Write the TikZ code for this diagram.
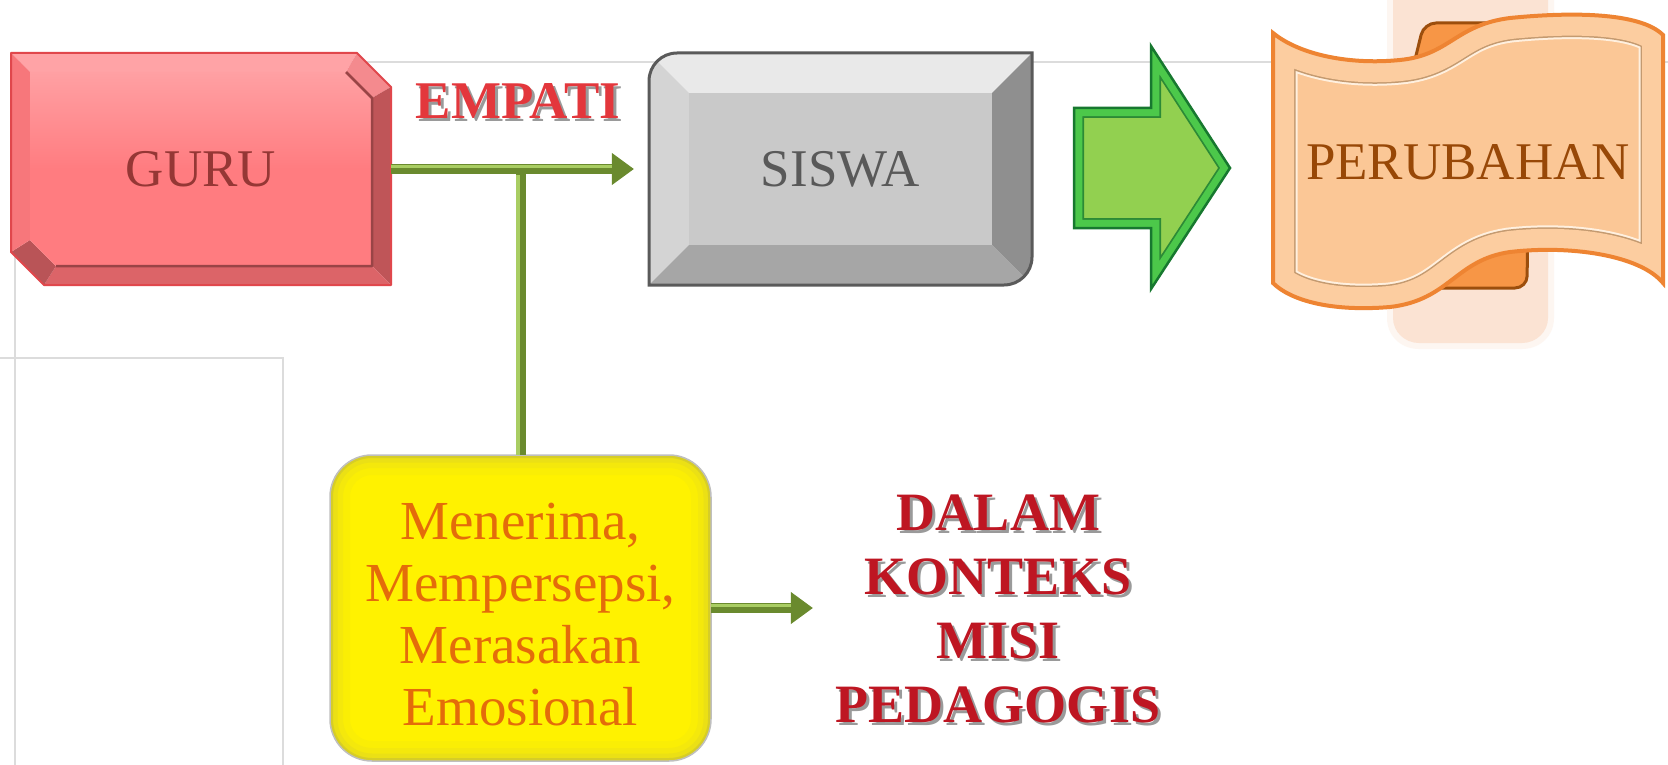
\documentclass[tikz,border=0pt]{standalone}
\usepackage{fontspec}
\setmainfont{Liberation Serif}
\usetikzlibrary{arrows.meta,calc}

\definecolor{frameGray}{HTML}{DCDCDC}
\definecolor{connDark}{HTML}{6A8A2E}
\definecolor{connLight}{HTML}{A9CD63}
\definecolor{guruText}{HTML}{953735}
\definecolor{guruEdge}{HTML}{E0474C}
\definecolor{guruTop}{HTML}{FFA3A6}
\definecolor{guruTopR}{HTML}{F48A8E}
\definecolor{guruRight}{HTML}{BF5558}
\definecolor{guruBottom}{HTML}{DC6468}
\definecolor{guruBotL}{HTML}{B95457}
\definecolor{guruLeft}{HTML}{F7777B}
\definecolor{guruFace}{HTML}{FF7C80}
\definecolor{guruFaceHi}{HTML}{FFA0A3}
\definecolor{siswaText}{HTML}{595959}
\definecolor{siswaEdge}{HTML}{5A5A5A}
\definecolor{siswaTop}{HTML}{E9E9E9}
\definecolor{siswaLeft}{HTML}{D4D4D4}
\definecolor{siswaRight}{HTML}{8F8F8F}
\definecolor{siswaBottom}{HTML}{A6A6A6}
\definecolor{siswaFace}{HTML}{C9C9C9}
\definecolor{arrowFace}{HTML}{92D050}
\definecolor{arrowRing}{HTML}{4CC84A}
\definecolor{arrowLine}{HTML}{2C8A36}
\definecolor{arrowEdge}{HTML}{17782F}
\definecolor{glowPeach}{HTML}{FBE3D3}
\definecolor{bannerFill}{HTML}{FBC796}
\definecolor{bannerRing}{HTML}{FCCDA0}
\definecolor{bannerGroove}{HTML}{C49A70}
\definecolor{bannerRidge}{HTML}{FFF0DF}
\definecolor{bannerEdge}{HTML}{EE8432}
\definecolor{backFill}{HTML}{F79646}
\definecolor{backEdge}{HTML}{9C4E0C}
\definecolor{perubahanText}{HTML}{984807}
\definecolor{terimaText}{HTML}{E46C0A}
\definecolor{empatiRed}{HTML}{E3373C}
\definecolor{dalamRed}{HTML}{BE1622}
\definecolor{textShadow}{HTML}{9A9A9A}

\tikzset{
  frameline/.style={draw=frameGray, line width=2pt},
  lbl/.style={inner sep=0pt, align=center, font=\fontsize{53}{64}\selectfont},
  boldlbl/.style={inner sep=0pt, align=center, font=\bfseries\fontsize{54}{64}\selectfont},
  conn/.style={line width=10pt, draw=connDark,
    -{Triangle[length=22pt,width=32pt,line width=1pt]}},
  connbar/.style={line width=10pt, draw=connDark},
  connhi/.style={line width=3.5pt, draw=connLight},
}

% outlines that are reused for clipping and stroking
\newcommand\siswaOutline{(649,285) -- (649,81) .. controls (649,65.5) and (661.5,53) .. (677,53) -- (1032,53) -- (1032,257) .. controls (1032,272.5) and (1019.5,285) .. (1004,285) -- cycle}
\newcommand\blockArrow{(1074,108) -- (1151,108) -- (1151,46) -- (1230,168) -- (1151,289) -- (1151,228) -- (1074,228) -- cycle}
\newcommand\bannerShape{(1273,33) .. controls (1300,55) and (1350,65) .. (1400,60) .. controls (1450,55) and (1455,25) .. (1510,18) .. controls (1570,12) and (1640,12) .. (1663,35) -- (1663,283) .. controls (1640,255) and (1570,245) .. (1510,252) .. controls (1455,260) and (1450,300) .. (1390,307) .. controls (1330,312) and (1290,300) .. (1273,283) -- cycle}
\newcommand\yellowBox{(330,455) rectangle (711,761)}

\begin{document}
\begin{tikzpicture}[x=1pt,y=-1pt]
\useasboundingbox (0,0) rectangle (1668,765);
\fill[white] (0,0) rectangle (1668,765);

% faint page frame lines
\draw[frameline] (15,765) -- (15,62) -- (1668,62);
\draw[frameline] (0,358) -- (283,358) -- (283,765);

% ---------- GURU: chamfered bevel block ----------
\coordinate (gA) at (11,53);  \coordinate (gB) at (357,53);
\coordinate (gC) at (391,87); \coordinate (gD) at (391,285);
\coordinate (gE) at (44,285); \coordinate (gF) at (11,252);
\coordinate (ga) at (30,72);  \coordinate (gb) at (346,72);
\coordinate (gc) at (372,98); \coordinate (gd) at (372,266);
\coordinate (ge) at (56,266); \coordinate (gf) at (30,240);
\fill[guruTop]    (gA) -- (gB) -- (gb) -- (ga) -- cycle;
\fill[guruTopR]   (gB) -- (gC) -- (gc) -- (gb) -- cycle;
\fill[guruRight]  (gC) -- (gD) -- (gd) -- (gc) -- cycle;
\fill[guruBottom] (gD) -- (gE) -- (ge) -- (gd) -- cycle;
\fill[guruBotL]   (gE) -- (gF) -- (gf) -- (ge) -- cycle;
\fill[guruLeft]   (gF) -- (gA) -- (ga) -- (gf) -- cycle;
\shade[top color=guruFaceHi, bottom color=guruFace, middle color=guruFace]
  (ga) -- (gb) -- (gc) -- (gd) -- (ge) -- (gf) -- cycle;
\draw[guruRight!80!black, line width=2.5pt, line join=round] (gb) -- (gc) -- (gd) -- (ge);
\draw[guruEdge, line width=2pt, line join=round]
  (gA) -- (gB) -- (gC) -- (gD) -- (gE) -- (gF) -- cycle;
\node[lbl, text=guruText, minimum width=380pt, minimum height=232pt] (guru) at (201,169) {GURU};

% ---------- SISWA: grey bevel block ----------
\begin{scope}
  \clip \siswaOutline;
  \fill[siswaLeft] (640,40) rectangle (1045,300);
  \fill[siswaTop] (640,44) -- (1041,44) -- (992,93) -- (689,93) -- cycle;
  \fill[siswaRight] (1041,44) -- (1041,294) -- (992,245) -- (992,93) -- cycle;
  \fill[siswaBottom] (640,294) -- (1041,294) -- (992,245) -- (689,245) -- cycle;
  \fill[siswaFace] (689,93) rectangle (992,245);
\end{scope}
\draw[siswaEdge, line width=3pt] \siswaOutline;
\node[lbl, text=siswaText, minimum width=383pt, minimum height=232pt] (siswa) at (840.5,169) {SISWA};

% ---------- green block arrow ----------
\fill[arrowFace] \blockArrow;
\begin{scope}
  \clip \blockArrow;
  \draw[arrowLine, line width=20pt] \blockArrow;
  \draw[arrowRing, line width=16.5pt] \blockArrow;
\end{scope}
\draw[arrowEdge, line width=2.5pt, line join=miter] \blockArrow;

% ---------- PERUBAHAN: wave banner ----------
\fill[glowPeach, opacity=0.3] (1387,0) -- (1554,0) -- (1554,318) .. controls (1554,336) and (1540,349) .. (1522,349) -- (1419,349) .. controls (1401,349) and (1387,336) .. (1387,318) -- cycle;
\fill[glowPeach] (1393,0) -- (1548,0) -- (1548,318) .. controls (1548,332) and (1536,343) .. (1522,343) -- (1419,343) .. controls (1405,343) and (1393,332) .. (1393,318) -- cycle;
\draw[backEdge, fill=backFill, line width=3pt, rounded corners=12pt]
  (1410,80) -- (1424,23) -- (1530,23) -- (1527,288) -- (1405,288) -- cycle;
\fill[bannerFill] \bannerShape;
\begin{scope}
  \clip \bannerShape;
  \draw[bannerRidge, line width=49pt] \bannerShape;
  \draw[bannerGroove, line width=45pt] \bannerShape;
  \draw[bannerRing, line width=42pt] \bannerShape;
\end{scope}
\draw[bannerEdge, line width=4pt] \bannerShape;
\node[lbl, text=perubahanText] (perubahan) at (1468,162) {PERUBAHAN};

% ---------- yellow rounded box ----------
\fill[yellow, rounded corners=42pt] \yellowBox;
\begin{scope}
  \clip[rounded corners=42pt] \yellowBox;
  \draw[yellow!98!black, line width=40pt, rounded corners=42pt] \yellowBox;
  \draw[yellow!95!black, line width=26pt, rounded corners=42pt] \yellowBox;
  \draw[yellow!91!black, line width=15pt, rounded corners=42pt] \yellowBox;
  \draw[yellow!82!black, line width=6pt, rounded corners=42pt] \yellowBox;
\end{scope}
\draw[black!25, line width=1.5pt, rounded corners=42pt] \yellowBox;
\node[lbl, text=terimaText, font=\fontsize{55}{62}\selectfont,
      minimum width=381pt, minimum height=306pt] (terima) at (520.5,608)
  {\rule{0pt}{50pt}Menerima,\\Mempersepsi,\\Merasakan\\Emosional};

% ---------- headline texts with drop shadow ----------
\node[boldlbl, font=\bfseries\fontsize{53}{60}\selectfont, text=textShadow] (empatiShadow) at (521,104) {EMPATI};
\node[boldlbl, font=\bfseries\fontsize{53}{60}\selectfont, text=empatiRed] (empati) at (518,101) {EMPATI};
\node[boldlbl, text=textShadow] (dalamShadow) at (1001,612) {DALAM\\KONTEKS\\MISI\\PEDAGOGIS};
\node[boldlbl, text=dalamRed] (dalam) at (998,609) {DALAM\\KONTEKS\\MISI\\PEDAGOGIS};

% ---------- connectors ----------
\draw[connbar] (terima.north) -- (terima.north |- guru.east);
\draw[connhi] ($(terima.north)+(-2.5,0)$) -- ($(terima.north |- guru.east)+(-2.5,6)$);
\draw[conn, shorten >=15pt] (guru.east) -- (siswa.west);
\draw[connhi] ($(guru.east)+(0,-2.5)$) -- ($(siswa.west)+(-37,-2.5)$);
\draw[conn, shorten >=23pt] (terima.east) -- (terima.east -| dalam.west);
\draw[connhi] ($(terima.east)+(0,-2.5)$) -- ($(terima.east -| dalam.west)+(-45,-2.5)$);
\end{tikzpicture}
\end{document}
